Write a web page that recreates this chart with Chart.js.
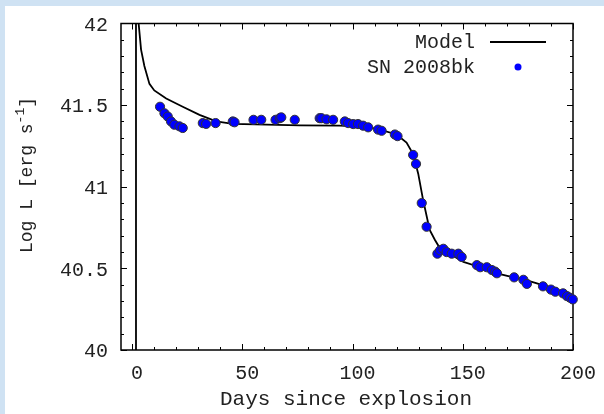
<!DOCTYPE html>
<html>
<head>
<meta charset="utf-8">
<script src="https://cdn.jsdelivr.net/npm/chart.js@4/dist/chart.umd.min.js"></script>
<style>
    html, body { margin: 0; padding: 0; background: #cfe2f3; }
    #wrap { position: absolute; left: 5px; top: 6px; width: 599px; height: 408px; background: #fff; }
</style>
</head>
<body>
<div id="wrap"><canvas id="lcChart"></canvas></div>
<script>
// model light curve (days since explosion, log L)
const modelDays = [1.8, 1.8, 3.0, 4.1, 5.6, 7.9, 10.1, 15.5, 23, 30.6, 38.2, 45.7, 61, 76, 94, 106, 112.4, 120, 124.5, 127.5, 129.8, 132, 135, 137.4, 138.9, 142.7, 150.3, 157.9, 165.5, 173, 180.6, 188.2, 195.7, 199.5, 200];
const modelLogL = [39.9, 42.4, 42.0, 41.84, 41.74, 41.63, 41.59, 41.54, 41.49, 41.44, 41.40, 41.385, 41.38, 41.376, 41.374, 41.368, 41.35, 41.32, 41.27, 41.20, 41.08, 40.92, 40.735, 40.674, 40.64, 40.60, 40.54, 40.507, 40.47, 40.445, 40.42, 40.39, 40.35, 40.31, 40.30];

// SN 2008bk observations
const obsDays = [12.7, 14.7, 16.2, 17.7, 19.2, 21.5, 23, 32.1, 33.6, 37.9, 45.7, 46.5, 55.1, 58.6, 65.1, 67, 67.7, 73.8, 85.1, 85.9, 88.2, 91.2, 96.5, 98, 100.3, 102.5, 104.8, 107.1, 111.6, 113.2, 119.2, 120.4, 127.5, 128.8, 131.4, 133.6, 138.5, 139.7, 141.2, 142.7, 145, 148, 149.5, 156.4, 157.9, 160.9, 163.2, 164.7, 165.5, 173.3, 177.5, 179.1, 186.4, 190, 192, 195.5, 197.3, 198.7, 199.9];
const obsLogL = [41.49, 41.45, 41.43, 41.40, 41.38, 41.37, 41.36, 41.39, 41.385, 41.39, 41.40, 41.395, 41.41, 41.41, 41.41, 41.42, 41.425, 41.41, 41.42, 41.42, 41.413, 41.41, 41.40, 41.39, 41.384, 41.384, 41.374, 41.364, 41.35, 41.343, 41.32, 41.31, 41.195, 41.14, 40.90, 40.755, 40.59, 40.61, 40.62, 40.60, 40.59, 40.59, 40.57, 40.52, 40.507, 40.507, 40.49, 40.48, 40.47, 40.445, 40.43, 40.405, 40.39, 40.37, 40.357, 40.347, 40.33, 40.32, 40.31];

const xTicks = [0, 50, 100, 150, 200];
const yTicks = [40, 40.5, 41, 41.5, 42];
const xMinor = 10;
const yMinor = 0.1;

const FONT = 'Liberation Mono, DejaVu Sans Mono, monospace';
const INK = '#222';

// gnuplot style frame with inward ticks on all four sides
const framePlugin = {
    id: 'frame',
    beforeDatasetsDraw(chart) {
        const ctx = chart.ctx;
        const a = chart.chartArea;
        const xs = chart.scales.x, ys = chart.scales.y;
        ctx.save();
        ctx.strokeStyle = '#000';
        ctx.lineWidth = 1;
        ctx.beginPath();
        for (let v = Math.ceil(xs.min / xMinor) * xMinor; v <= xs.max + 1e-9; v += xMinor) {
            const px = Math.round(xs.getPixelForValue(v)) + 0.5;
            const len = (v % 50 === 0) ? 6 : 3;
            ctx.moveTo(px, a.bottom); ctx.lineTo(px, a.bottom - len);
            ctx.moveTo(px, a.top); ctx.lineTo(px, a.top + len);
        }
        for (let v = ys.min; v <= ys.max + 1e-9; v += yMinor) {
            const py = Math.round(ys.getPixelForValue(v)) + 0.5;
            const major = Math.abs(v * 2 - Math.round(v * 2)) < 1e-6;
            const len = major ? 6 : 3;
            ctx.moveTo(a.left, py); ctx.lineTo(a.left + len, py);
            ctx.moveTo(a.right, py); ctx.lineTo(a.right - len, py);
        }
        ctx.stroke();
        ctx.lineWidth = 1.5;
        ctx.strokeRect(a.left, a.top, a.right - a.left, a.bottom - a.top);
        ctx.restore();
    },
    afterDraw(chart) {
        const ctx = chart.ctx;
        const a = chart.chartArea;
        ctx.save();
        ctx.fillStyle = INK;
        // x title
        ctx.font = '21px ' + FONT;
        ctx.textAlign = 'center';
        ctx.textBaseline = 'alphabetic';
        ctx.fillText('Days since explosion', (a.left + a.right) / 2 - 1, 399);

        // y title with superscript
        const main = 'Log L [erg s', sup = '-1', end = ']';
        ctx.font = '18px ' + FONT;
        const w1 = ctx.measureText(main).width, w3 = ctx.measureText(end).width;
        ctx.font = '13px ' + FONT;
        const w2 = ctx.measureText(sup).width;
        const total = w1 + w2 + w3;
        ctx.translate(27, 169);
        ctx.rotate(-Math.PI / 2);
        ctx.textAlign = 'left';
        let x0 = -total / 2;
        ctx.font = '18px ' + FONT;
        ctx.fillText(main, x0, 0);
        ctx.font = '13px ' + FONT;
        ctx.fillText(sup, x0 + w1, -8);
        ctx.font = '18px ' + FONT;
        ctx.fillText(end, x0 + w1 + w2, 0);
        ctx.setTransform(1, 0, 0, 1, 0, 0);

        // legend, top right inside the plot
        const ds = chart.data.datasets;
        ctx.font = '20px ' + FONT;
        ctx.textAlign = 'right';
        ctx.textBaseline = 'middle';
        ctx.fillText(ds[1].label, 470, 37);
        ctx.fillText(ds[0].label, 470, 62);
        ctx.strokeStyle = '#000';
        ctx.lineWidth = 2;
        ctx.beginPath();
        ctx.moveTo(485, 36); ctx.lineTo(541, 36);
        ctx.stroke();
        ctx.fillStyle = '#0000ff';
        ctx.beginPath();
        ctx.arc(513, 61, 3.5, 0, Math.PI * 2);
        ctx.fill();
        ctx.restore();
    }
};

const ctx = document.getElementById('lcChart').getContext('2d');
new Chart(ctx, {
    type: 'line',
    plugins: [framePlugin],
    data: {
        datasets: [{
            label: 'SN 2008bk',
            data: obsDays.map((d, i) => ({ x: d, y: obsLogL[i] })),
            showLine: false,
            pointRadius: 4.6,
            pointBackgroundColor: '#0000ff',
            pointBorderColor: '#333',
            pointBorderWidth: 1,
            order: 0,
            clip: false
        }, {
            label: 'Model',
            data: modelDays.map((d, i) => ({ x: d, y: modelLogL[i] })),
            borderColor: '#000',
            borderWidth: 1.8,
            pointRadius: 0,
            tension: 0,
            order: 1,
            clip: 0
        }]
    },
    options: {
        responsive: true,
        maintainAspectRatio: false,
        animation: false,
        layout: { padding: { top: 17.5, right: 31, left: 0, bottom: 0 } },
        plugins: {
            legend: { display: false },
            tooltip: { enabled: false }
        },
        scales: {
            x: {
                type: 'linear',
                min: -5,
                max: 200,
                afterBuildTicks: s => { s.ticks = xTicks.map(v => ({ value: v })); },
                afterFit: s => { s.height = 64; s.paddingLeft = 0; s.paddingRight = 0; },
                grid: { display: false, drawTicks: false },
                border: { display: false },
                ticks: {
                    color: INK,
                    padding: 12,
                    labelOffset: 5,
                    maxRotation: 0,
                    font: { family: FONT, size: 20 }
                }
            },
            y: {
                type: 'linear',
                min: 40,
                max: 42,
                afterBuildTicks: s => { s.ticks = yTicks.map(v => ({ value: v })); },
                afterFit: s => { s.width = 116; s.paddingTop = 0; s.paddingBottom = 0; },
                grid: { display: false, drawTicks: false },
                border: { display: false },
                ticks: {
                    color: INK,
                    padding: 13,
                    labelOffset: 2,
                    callback: v => String(v),
                    font: { family: FONT, size: 20 }
                }
            }
        }
    }
});
</script>
</body>
</html>
